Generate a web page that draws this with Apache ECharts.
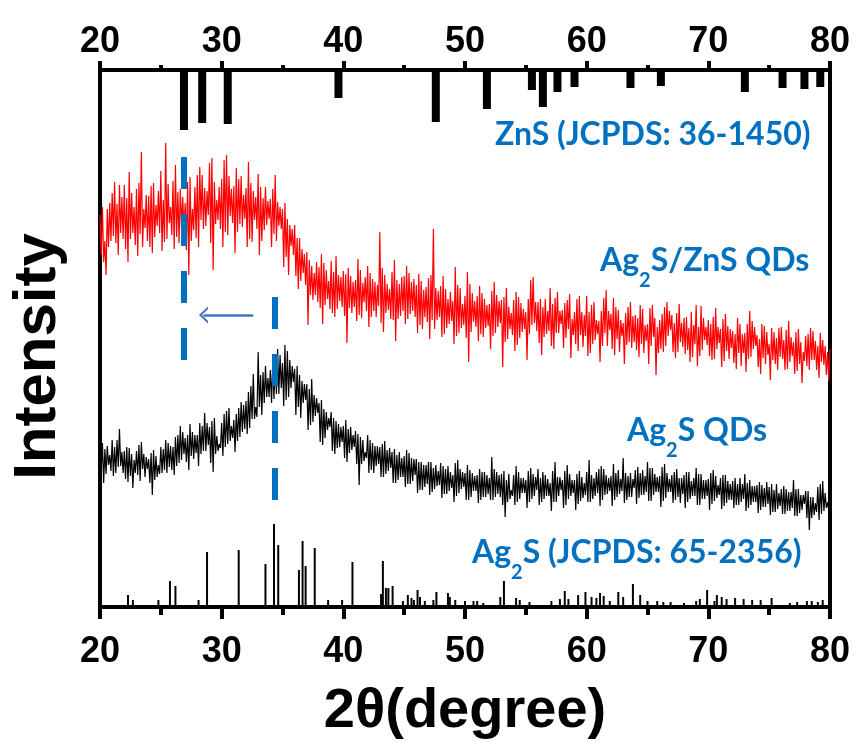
<!DOCTYPE html>
<html><head><meta charset="utf-8">
<script src="https://cdn.jsdelivr.net/npm/echarts@6/dist/echarts.min.js"></script>
<style>html,body{margin:0;padding:0;background:#fff}#c{width:858px;height:742px}</style>
</head><body><div id="c"></div>
<script>
// sampling grid of the measured patterns (2-theta, degrees)
const xStart = 20, xStep = 0.1;

// Ag2S/ZnS QDs pattern (arbitrary intensity units), 20.0 .. 80.0 step 0.1 (one row per degree)
const ag2sZnsQDs = [
392,352,400,345,366,332,398,360,404,366,
414,371,425,364,403,352,422,374,410,368,
422,358,409,345,435,368,414,374,400,362,
418,351,424,373,455,360,398,379,412,366,
411,360,421,354,424,370,402,381,416,374,
436,356,407,365,464,368,423,384,400,372,
426,358,442,370,415,364,418,380,410,378,
404,357,425,332,430,366,398,377,420,369,
432,360,440,387,432,378,419,381,416,392,
444,364,449,337,425,383,407,387,420,378,
428,360,447,375,452,372,431,391,418,384,
421,354,439,375,428,383,431,380,412,388,
419,360,445,368,424,365,416,387,410,378,
433,352,420,366,409,377,420,382,406,388,
408,360,418,373,432,366,405,381,400,378,
398,340,404,350,388,332,382,361,378,352,
382,331,369,318,369,326,358,334,353,322,
355,282,347,312,341,307,334,312,345,305,
340,299,353,283,344,302,337,308,326,298,
346,294,335,290,351,298,332,306,330,300,
336,291,333,264,339,299,331,294,325,300,
327,286,348,292,337,289,324,305,330,296,
341,280,334,290,328,296,325,290,322,301,
375,284,339,275,332,294,323,297,318,288,
335,287,347,266,327,288,323,291,330,296,
331,283,341,288,334,293,325,296,328,290,
322,274,333,282,326,278,317,290,320,285,
329,268,332,287,378,278,319,287,316,290,
321,270,331,273,318,279,308,283,315,286,
306,263,340,271,322,274,319,279,303,282,
311,269,335,245,323,275,314,285,306,280,
311,266,321,273,314,270,308,279,302,281,
303,258,316,271,325,274,312,280,306,284,
307,240,310,265,319,268,300,278,294,272,
307,256,315,262,310,269,304,275,298,278,
295,247,308,273,327,282,330,284,305,276,
305,264,308,252,300,270,308,273,296,276,
319,261,303,258,309,274,315,274,296,283,
297,259,304,269,307,278,313,249,288,272,
295,263,308,256,311,272,295,260,292,271,
311,251,295,254,302,263,305,267,287,273,
286,245,296,261,309,274,317,261,296,277,
293,258,309,252,300,268,297,255,287,271,
284,243,294,262,300,265,305,259,291,265,
292,257,289,250,302,263,298,254,282,266,
283,243,299,261,302,270,289,232,280,254,
287,258,293,255,300,261,305,271,296,277,
292,255,284,249,294,255,303,265,284,260,
289,253,290,257,279,245,295,250,282,263,
302,241,280,251,301,257,289,267,280,262,
287,251,283,247,290,248,299,258,280,264,
278,240,288,246,293,256,281,248,278,259,
276,244,273,238,289,254,283,241,273,254,
274,235,283,248,296,250,286,258,280,261,
272,240,268,233,283,249,281,243,275,252,
263,227,279,247,275,243,269,237,279,250,
280,248,267,237,277,238,286,245,270,251,
265,233,275,236,278,243,265,224,255,246,
271,241,273,237,279,247,276,247,266,237,
261,229,274,245,267,242,261,232,255,226,
258];

// Ag2S QDs pattern, 20.0 .. 80.0 step 0.1 (one row per degree)
const ag2sQDs = [
155,136,164,124,158,133,161,142,152,136,
167,131,160,134,167,140,178,141,155,134,
156,128,160,125,159,131,153,119,147,134,
156,132,162,126,165,138,153,130,150,138,
148,124,154,112,157,127,151,130,142,133,
160,134,158,137,167,134,164,140,161,137,
160,132,170,141,172,144,181,147,175,153,
169,145,172,137,183,151,175,148,172,154,
172,141,184,153,181,156,194,156,184,162,
180,144,186,135,189,153,171,156,163,159,
184,151,193,160,196,163,199,166,181,169,
187,155,193,166,199,170,205,175,202,178,
206,173,215,179,221,188,233,188,200,190,
255,200,232,192,235,204,241,210,229,210,
237,204,246,208,249,213,258,213,252,219,
244,201,262,207,256,210,247,219,241,225,
238,192,241,200,232,189,226,204,223,207,
223,177,218,182,228,185,212,191,209,194,
204,165,207,162,198,169,195,177,189,180,
195,156,189,153,186,159,183,160,180,165,
181,149,187,145,178,154,180,157,172,160,
176,143,173,122,170,143,167,146,155,149,
172,134,167,137,164,134,161,141,161,143,
160,130,163,130,166,133,157,136,159,139,
155,124,158,124,152,127,155,130,149,130,
151,120,157,123,154,123,149,126,148,132,
148,114,145,117,145,117,142,120,142,123,
145,112,145,115,139,118,142,121,136,122,
144,109,141,113,138,113,141,116,135,119,
132,105,144,111,147,114,138,118,135,120,
134,107,142,107,137,110,134,116,131,116,
132,104,138,107,135,110,135,110,132,113,
129,107,150,107,138,110,135,113,132,110,
133,102,136,90,127,105,133,108,117,111,
132,102,141,105,135,108,129,114,129,114,
127,99,136,105,139,108,133,111,130,117,
138,102,129,105,135,108,132,111,128,111,
124,96,136,105,145,105,130,111,130,117,
127,99,136,102,142,108,133,111,127,114,
127,97,133,103,136,106,130,109,124,112,
135,105,147,105,132,108,129,111,135,114,
138,101,141,107,138,112,132,113,129,116,
131,101,143,107,134,110,137,113,128,116,
149,104,134,107,131,110,134,110,128,119,
137,103,140,109,134,112,137,112,131,115,
145,106,139,106,139,112,133,115,130,115,
131,100,140,106,143,109,134,115,128,115,
132,104,135,107,138,110,129,104,129,113,
132,99,135,105,135,108,126,111,129,111,
139,102,133,102,133,108,127,108,127,111,
128,97,134,103,137,106,131,109,122,112,
129,98,132,101,132,104,126,107,123,107,
126,99,129,102,123,102,129,105,123,108,
133,96,124,99,127,102,121,105,121,105,
122,94,125,97,122,100,119,100,125,103,
120,92,123,95,117,95,123,98,114,101,
118,93,121,93,118,96,115,96,115,99,
127,91,118,91,118,94,112,97,112,103,
116,89,116,77,110,89,110,92,104,95,
120,87,123,93,126,96,114,99,105,96,
100];

// ZnS reference (JCPDS 36-1450): positions and relative intensities
const znsRefPos = [26.9, 28.4, 30.5, 39.6, 47.6, 51.8, 55.5, 56.4, 57.6, 59.0, 63.6, 66.1, 73.0, 76.1, 77.9, 79.2];
const znsRefInt = [60, 53, 54, 28, 52, 39, 20, 37, 22, 17, 18, 16, 22, 18, 19, 17];

// Ag2S reference (JCPDS 65-2356): positions and relative intensities
const ag2sRefPos = [22.3,22.7,24.8,25.75,26.2,28.1,28.8,31.4,33.6,34.3,34.65,36.35,36.65,36.9,37.65,38.75,39.9,40.75,43.1,43.25,43.5,43.7,44.05,44.9,45.3,45.6,45.8,46.1,46.3,46.7,47.4,47.65,48.6,48.75,49.2,50.0,50.7,51.0,51.5,52.9,53.2,54.2,54.5,55.3,57.1,57.8,58.2,58.5,59.3,59.9,60.4,60.8,61.1,61.4,61.9,62.6,63.0,63.8,64.4,65.0,65.8,66.3,66.9,68.0,69.0,69.3,69.9,70.5,70.7,71.1,71.5,72.2,72.9,73.6,74.3,75.2,76.7,77.3,78.1,78.5,79.0,79.4];
const ag2sRefInt = [12,7,7,26,21,7,55,57,43,83,62,37,66,41,59,7,7,45,13,46,19,19,21,6,12,9,7,17,10,6,7,15,14,10,7,6,6,6,4,10,26,9,7,5,6,8,16,8,12,15,10,9,14,11,6,15,10,23,12,6,6,5,5,4,6,8,17,6,12,10,8,9,8,7,7,9,4,5,6,6,5,7];

// annotations: peak-shift guide lines and arrow
const guideZnS = {x: 26.9, from: 450, to: 245};
const guideAg2S = {x: 34.4, from: 310, to: 105};
const shiftArrow = {from: 32.6, to: 28.5, y: 292};

const xTickMin = 20, xTickMax = 80, xTickStep = 10;
const yMax = 537;

const toPairs = arr => arr.map((v, i) => [+(xStart + i * xStep).toFixed(1), v]);
const zip = (a, b) => a.map((v, i) => [v, b[i]]);

const labelFont = 'Liberation Sans';
const blue = '#0070C0';

function xAxisBase(pos) {
  const top = pos === 'top';
  return {
    type: 'value', position: pos, min: xTickMin, max: xTickMax, interval: xTickStep,
    axisLine: {show: true, onZero: false, lineStyle: {color: '#000', width: 4}},
    axisTick: {show: true, length: top ? 9 : 12, lineStyle: {color: '#000', width: 4}},
    minorTick: {show: true, splitNumber: 2, length: top ? 5 : 8, lineStyle: {color: '#000', width: 4}},
    splitLine: {show: false}, minorSplitLine: {show: false},
    axisLabel: {show: true, fontSize: 36, fontWeight: 'bold', fontFamily: labelFont, color: '#000', margin: top ? 10 : 27, showMinLabel: true, showMaxLabel: true}
  };
}

const chart = echarts.init(document.getElementById('c'), null, {renderer: 'canvas'});
const bottomAxis = xAxisBase('bottom');
Object.assign(bottomAxis, {
  name: '2θ(degree)', nameLocation: 'middle', nameGap: 77,
  nameTextStyle: {fontSize: 56, fontWeight: 'bold', fontFamily: labelFont, color: '#000'}
});

const subRich = () => ({
  a: {fill: blue, fontSize: 32, fontWeight: 'bold', fontFamily: 'Lato', lineHeight: 32, verticalAlign: 'top'},
  s: {fill: blue, fontSize: 20, fontWeight: 'bold', fontFamily: 'Lato', lineHeight: 46, verticalAlign: 'bottom'}
});

chart.setOption({
  animation: false,
  backgroundColor: '#fff',
  grid: {left: 100, right: 28, top: 70, bottom: 135, containLabel: false, outerBoundsMode: 'none'},
  xAxis: [bottomAxis, xAxisBase('top')],
  yAxis: [
    {type: 'value', min: 0, max: yMax, position: 'left',
     axisLine: {show: true, lineStyle: {color: '#000', width: 4}},
     axisTick: {show: false}, axisLabel: {show: false}, splitLine: {show: false},
     name: 'Intensity', nameLocation: 'middle', nameGap: 32, nameRotate: 90,
     nameTextStyle: {fontSize: 60, fontWeight: 'bold', fontFamily: labelFont, color: '#000', padding: [0, 36, 0, 0]}},
    {type: 'value', min: 0, max: yMax, position: 'right', inverse: true,
     axisLine: {show: true, lineStyle: {color: '#000', width: 4}},
     axisTick: {show: false}, axisLabel: {show: false}, splitLine: {show: false}}
  ],
  series: [
    {name: 'Ag2S/ZnS QDs', type: 'line', xAxisIndex: 0, yAxisIndex: 0, data: toPairs(ag2sZnsQDs),
     symbol: 'none', lineStyle: {color: '#FF0000', width: 1.2}, z: 2},
    {name: 'Ag2S QDs', type: 'line', xAxisIndex: 0, yAxisIndex: 0, data: toPairs(ag2sQDs),
     symbol: 'none', lineStyle: {color: '#000', width: 1.2}, z: 2},
    {name: 'Ag2S ref', type: 'bar', xAxisIndex: 0, yAxisIndex: 0, data: zip(ag2sRefPos, ag2sRefInt),
     barWidth: 2, itemStyle: {color: '#000'}, z: 3},
    {name: 'ZnS ref', type: 'bar', xAxisIndex: 1, yAxisIndex: 1, data: zip(znsRefPos, znsRefInt),
     barWidth: 8, itemStyle: {color: '#000'}, z: 3},
    {name: 'guides', type: 'line', xAxisIndex: 0, yAxisIndex: 0, data: [], z: 5,
     markLine: {
       silent: true, animation: false, label: {show: false},
       data: [
         [{coord: [guideZnS.x, guideZnS.from], symbol: 'none', lineStyle: {color: blue, width: 6, type: [32, 25]}},
          {coord: [guideZnS.x, guideZnS.to], symbol: 'none'}],
         [{coord: [guideAg2S.x, guideAg2S.from], symbol: 'none', lineStyle: {color: blue, width: 6, type: [32, 25]}},
          {coord: [guideAg2S.x, guideAg2S.to], symbol: 'none'}],
         [{coord: [shiftArrow.from, shiftArrow.y], symbol: 'none', lineStyle: {color: '#4472C4', width: 2.5, type: 'solid'}},
          {coord: [shiftArrow.to, shiftArrow.y], symbol: 'path://M0,10 L5,0 L10,10 L8.4,10 L5,3.2 L1.6,10 Z', symbolSize: [17, 9]}]
       ]
     }}
  ],
  graphic: [
    {type: 'text', x: 495, y: 135, z: 10, style: {text: 'ZnS (JCPDS: 36-1450)', fill: blue, font: 'bold 32px Lato', verticalAlign: 'middle', align: 'left'}},
    {type: 'text', x: 600, y: 268, z: 10, style: {text: '{a|Ag}{s|2}{a|S/ZnS QDs}', rich: subRich(), verticalAlign: 'middle', align: 'left'}},
    {type: 'text', x: 627, y: 438, z: 10, style: {text: '{a|Ag}{s|2}{a|S QDs}', rich: subRich(), verticalAlign: 'middle', align: 'left'}},
    {type: 'text', x: 472, y: 560, z: 10, style: {text: '{a|Ag}{s|2}{a|S (JCPDS: 65-2356)}', rich: subRich(), verticalAlign: 'middle', align: 'left'}}
  ]
});
</script></body></html>
